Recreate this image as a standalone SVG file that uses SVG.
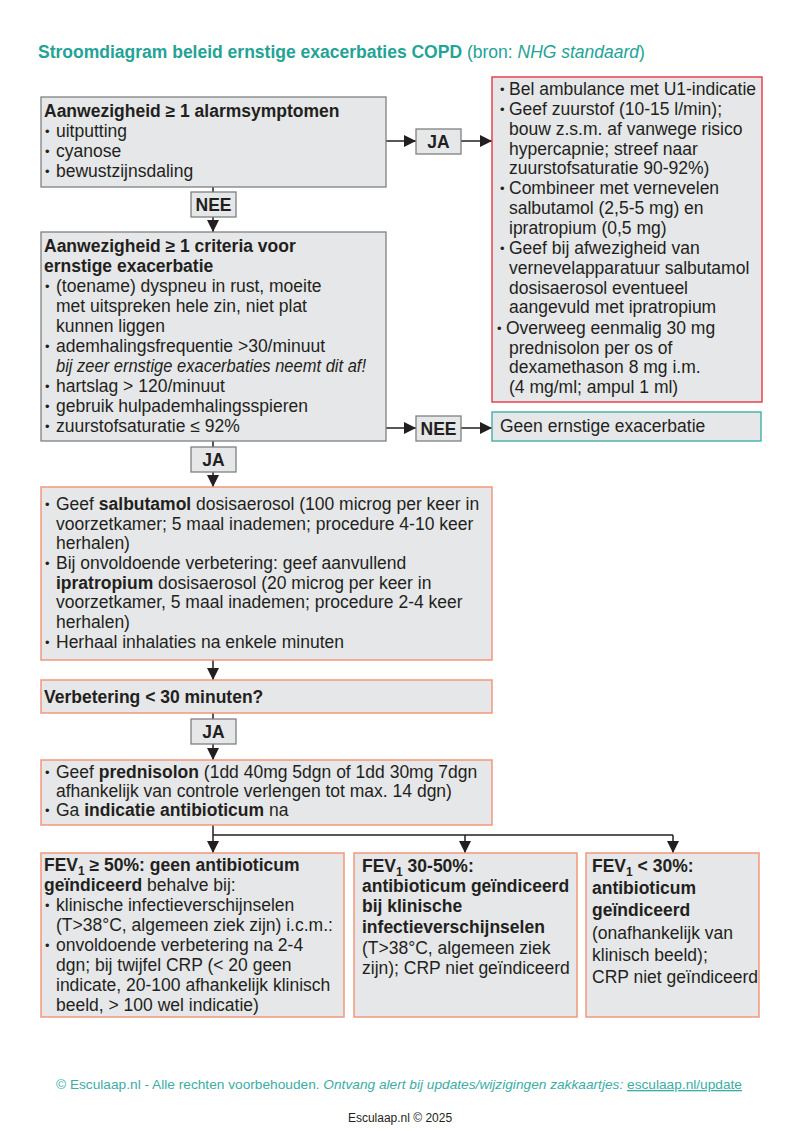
<svg xmlns="http://www.w3.org/2000/svg" width="800" height="1131" viewBox="0 0 800 1131">
<defs>
<style>
text{font-family:"Liberation Sans",Arial,sans-serif;font-size:17.5px;fill:#231f20}
.b{font-weight:bold}
.i{font-style:italic}
.bu{font-size:13px}
.box{fill:#e6e7e8;stroke:#808080;stroke-width:1.3}
.red{fill:#e6e7e8;stroke:#e8434f;stroke-width:1.5}
.org{fill:#e6e7e8;stroke:#f3977b;stroke-width:1.5}
.teal{fill:#e6e7e8;stroke:#4db3aa;stroke-width:1.5}
.lbl{fill:#e6e7e8;stroke:#808080;stroke-width:1.3}
.ln{stroke:#231f20;stroke-width:1.5;fill:none}
.tl{fill:#23a396}
.sub{font-size:12px}
</style>
<marker id="ah" markerUnits="userSpaceOnUse" markerWidth="12" markerHeight="12" viewBox="0 0 12 12" refX="12" refY="6" orient="auto">
<path d="M0,0 L12,6 L0,12 Z" fill="#231f20"/>
</marker>
</defs>
<rect width="800" height="1131" fill="#ffffff"/>

<g id="title">
<text x="38" y="58" class="tl"><tspan class="b tl">Stroomdiagram beleid ernstige exacerbaties COPD</tspan> (bron: <tspan class="i tl">NHG standaard</tspan>)</text>
</g>

<g id="connectors">
<line class="ln" x1="386" y1="141" x2="416" y2="141" marker-end="url(#ah)"/>
<line class="ln" x1="461" y1="141" x2="492" y2="141" marker-end="url(#ah)"/>
<line class="ln" x1="213" y1="187" x2="213" y2="192"/>
<line class="ln" x1="213" y1="217" x2="213" y2="232" marker-end="url(#ah)"/>
<line class="ln" x1="386" y1="428" x2="416" y2="428" marker-end="url(#ah)"/>
<line class="ln" x1="461" y1="428" x2="492" y2="428" marker-end="url(#ah)"/>
<line class="ln" x1="213" y1="441" x2="213" y2="447"/>
<line class="ln" x1="213" y1="472" x2="213" y2="487" marker-end="url(#ah)"/>
<line class="ln" x1="213" y1="660" x2="213" y2="680" marker-end="url(#ah)"/>
<line class="ln" x1="213" y1="713" x2="213" y2="719"/>
<line class="ln" x1="213" y1="744" x2="213" y2="760" marker-end="url(#ah)"/>
<line class="ln" x1="213" y1="825" x2="213" y2="853" marker-end="url(#ah)"/>
<polyline class="ln" points="213,835 673,835"/>
<line class="ln" x1="465" y1="835" x2="465" y2="853" marker-end="url(#ah)"/>
<line class="ln" x1="673" y1="835" x2="673" y2="853" marker-end="url(#ah)"/>
</g>

<g id="alarm">
<rect class="box" x="41" y="97" width="345" height="90"/>
<text x="44" y="117" class="b">Aanwezigheid ≥ 1 alarmsymptomen</text>
<text x="45" y="136" class="bu">•</text><text x="56" y="137">uitputting</text>
<text x="45" y="156" class="bu">•</text><text x="56" y="157">cyanose</text>
<text x="45" y="176" class="bu">•</text><text x="56" y="177">bewustzijnsdaling</text>
</g>

<g id="ja1">
<rect class="lbl" x="416" y="129" width="45" height="25"/>
<text x="438.5" y="148" class="b" text-anchor="middle">JA</text>
</g>

<g id="nee1">
<rect class="lbl" x="191" y="192" width="45" height="25"/>
<text x="213.5" y="211" class="b" text-anchor="middle">NEE</text>
</g>

<g id="ambulance">
<rect class="red" x="492" y="77" width="270" height="325"/>
<text x="500" y="94" class="bu">•</text><text x="509" y="95">Bel ambulance met U1-indicatie</text>
<text x="500" y="114" class="bu">•</text><text x="509" y="115">Geef zuurstof (10-15 l/min);</text>
<text x="509" y="135">bouw z.s.m. af vanwege risico</text>
<text x="509" y="155">hypercapnie; streef naar</text>
<text x="509" y="174">zuurstofsaturatie 90-92%)</text>
<text x="500" y="193" class="bu">•</text><text x="509" y="194">Combineer met vernevelen</text>
<text x="509" y="214">salbutamol (2,5-5 mg) en</text>
<text x="509" y="234">ipratropium (0,5 mg)</text>
<text x="500" y="253" class="bu">•</text><text x="509" y="254">Geef bij afwezigheid van</text>
<text x="509" y="274">vernevelapparatuur salbutamol</text>
<text x="509" y="294">dosisaerosol eventueel</text>
<text x="509" y="313">aangevuld met ipratropium</text>
<text x="497" y="333" class="bu">•</text><text x="506" y="334">Overweeg eenmalig 30 mg</text>
<text x="509" y="354">prednisolon per os of</text>
<text x="509" y="373">dexamethason 8 mg i.m.</text>
<text x="509" y="393">(4 mg/ml; ampul 1 ml)</text>
</g>

<g id="criteria">
<rect class="box" x="41" y="232" width="345" height="209"/>
<text x="44" y="252" class="b">Aanwezigheid ≥ 1 criteria voor</text>
<text x="44" y="272" class="b">ernstige exacerbatie</text>
<text x="45" y="291" class="bu">•</text><text x="56" y="292">(toename) dyspneu in rust, moeite</text>
<text x="56" y="312">met uitspreken hele zin, niet plat</text>
<text x="56" y="332">kunnen liggen</text>
<text x="45" y="351" class="bu">•</text><text x="56" y="352">ademhalingsfrequentie &gt;30/minuut</text>
<text x="56" y="372" class="i" textLength="310" lengthAdjust="spacingAndGlyphs">bij zeer ernstige exacerbaties neemt dit af!</text>
<text x="45" y="391" class="bu">•</text><text x="56" y="392">hartslag &gt; 120/minuut</text>
<text x="45" y="411" class="bu">•</text><text x="56" y="412">gebruik hulpademhalingsspieren</text>
<text x="45" y="431" class="bu">•</text><text x="56" y="432">zuurstofsaturatie ≤ 92%</text>
</g>

<g id="nee2">
<rect class="lbl" x="416" y="416" width="45" height="25"/>
<text x="438.5" y="435" class="b" text-anchor="middle">NEE</text>
</g>

<g id="geen">
<rect class="teal" x="492" y="412" width="269" height="29"/>
<text x="500" y="432">Geen ernstige exacerbatie</text>
</g>

<g id="ja2">
<rect class="lbl" x="191" y="447" width="45" height="25"/>
<text x="213.5" y="466" class="b" text-anchor="middle">JA</text>
</g>

<g id="inhalatie">
<rect class="org" x="41" y="487" width="451" height="173"/>
<text x="45" y="509" class="bu">•</text><text x="56" y="510">Geef <tspan class="b">salbutamol</tspan> dosisaerosol (100 microg per keer in</text>
<text x="56" y="530">voorzetkamer; 5 maal inademen; procedure 4-10 keer</text>
<text x="56" y="549">herhalen)</text>
<text x="45" y="568" class="bu">•</text><text x="56" y="569">Bij onvoldoende verbetering: geef aanvullend</text>
<text x="56" y="589"><tspan class="b">ipratropium</tspan> dosisaerosol (20 microg per keer in</text>
<text x="56" y="608">voorzetkamer, 5 maal inademen; procedure 2-4 keer</text>
<text x="56" y="628">herhalen)</text>
<text x="45" y="647" class="bu">•</text><text x="56" y="648">Herhaal inhalaties na enkele minuten</text>
</g>

<g id="verbetering">
<rect class="org" x="41" y="680" width="451" height="33"/>
<text x="44" y="703" class="b">Verbetering &lt; 30 minuten?</text>
</g>

<g id="ja3">
<rect class="lbl" x="191" y="719" width="45" height="25"/>
<text x="213.5" y="738" class="b" text-anchor="middle">JA</text>
</g>

<g id="prednisolon">
<rect class="org" x="41" y="760" width="451" height="65"/>
<text x="45" y="777" class="bu">•</text><text x="56" y="778">Geef <tspan class="b">prednisolon</tspan> (1dd 40mg 5dgn of 1dd 30mg 7dgn</text>
<text x="56" y="797">afhankelijk van controle verlengen tot max. 14 dgn)</text>
<text x="45" y="815" class="bu">•</text><text x="56" y="816">Ga <tspan class="b">indicatie antibioticum</tspan> na</text>
</g>

<g id="fev50">
<rect class="org" x="41" y="853" width="303" height="164"/>
<text x="44" y="871" class="b">FEV<tspan class="sub" baseline-shift="-4">1</tspan> ≥ 50%: geen antibioticum</text>
<text x="44" y="891"><tspan class="b">geïndiceerd</tspan> behalve bij:</text>
<text x="45" y="910" class="bu">•</text><text x="56" y="911">klinische infectieverschijnselen</text>
<text x="56" y="931">(T&gt;38°C, algemeen ziek zijn) i.c.m.:</text>
<text x="45" y="950" class="bu">•</text><text x="56" y="951">onvoldoende verbetering na 2-4</text>
<text x="56" y="971">dgn; bij twijfel CRP (&lt; 20 geen</text>
<text x="56" y="991">indicate, 20-100 afhankelijk klinisch</text>
<text x="56" y="1011">beeld, &gt; 100 wel indicatie)</text>
</g>

<g id="fev3050">
<rect class="org" x="354" y="853" width="223" height="164"/>
<text x="362" y="872" class="b">FEV<tspan class="sub" baseline-shift="-4">1</tspan> 30-50%:</text>
<text x="362" y="892" class="b">antibioticum geïndiceerd</text>
<text x="362" y="912" class="b">bij klinische</text>
<text x="362" y="933" class="b">infectieverschijnselen</text>
<text x="362" y="954">(T&gt;38°C, algemeen ziek</text>
<text x="362" y="974">zijn); CRP niet geïndiceerd</text>
</g>

<g id="fev30">
<rect class="org" x="586" y="853" width="173" height="164"/>
<text x="592" y="872" class="b">FEV<tspan class="sub" baseline-shift="-4">1</tspan> &lt; 30%:</text>
<text x="592" y="894" class="b">antibioticum</text>
<text x="592" y="916" class="b">geïndiceerd</text>
<text x="592" y="939">(onafhankelijk van</text>
<text x="592" y="961">klinisch beeld);</text>
<text x="592" y="983">CRP niet geïndiceerd</text>
</g>

<g id="footer">
<text x="56" y="1089" style="font-size:13px;fill:#3aada6" textLength="686" lengthAdjust="spacingAndGlyphs">© Esculaap.nl - Alle rechten voorbehouden. <tspan class="i" style="fill:#3aada6">Ontvang alert bij updates/wijzigingen zakkaartjes:</tspan> <tspan style="fill:#3aada6;text-decoration:underline">esculaap.nl/update</tspan></text>
<text x="400" y="1122" style="font-size:12px" text-anchor="middle">Esculaap.nl © 2025</text>
</g>
</svg>
